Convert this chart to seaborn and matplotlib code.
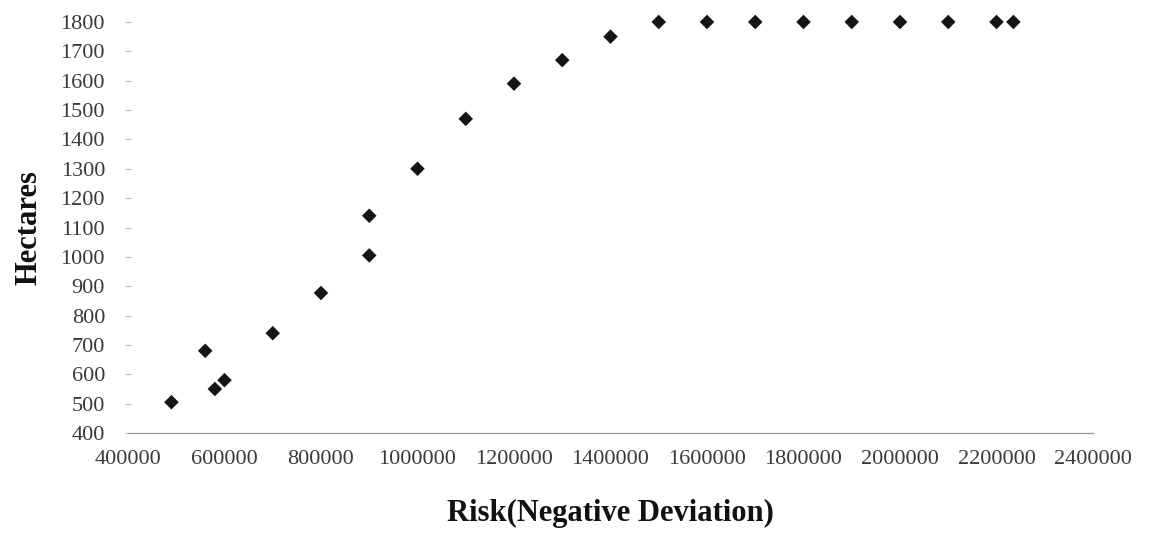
import matplotlib
matplotlib.use("Agg")
import matplotlib.pyplot as plt
import seaborn as sns
import pandas as pd

# Data
risk = [490000, 560000, 580000, 600000, 700000, 800000, 900000, 900000,
        1000000, 1100000, 1200000, 1300000, 1400000, 1500000, 1600000,
        1700000, 1800000, 1900000, 2000000, 2100000, 2200000, 2235000]
hectares = [505, 680, 550, 580, 740, 877, 1005, 1140,
            1300, 1470, 1590, 1670, 1750, 1800, 1800,
            1800, 1800, 1800, 1800, 1800, 1800, 1800]
x_ticks = [400000, 600000, 800000, 1000000, 1200000, 1400000, 1600000,
           1800000, 2000000, 2200000, 2400000]
y_ticks = [400, 500, 600, 700, 800, 900, 1000, 1100, 1200, 1300, 1400,
           1500, 1600, 1700, 1800]
x_title = "Risk(Negative Deviation)"
y_title = "Hectares"

sns.set_theme(style="white")
plt.rcParams['font.family'] = ['Liberation Serif', 'DejaVu Serif']

df = pd.DataFrame({"risk": risk, "hectares": hectares})

fig = plt.figure(figsize=(11.58, 5.4), dpi=100)
ax = fig.add_axes([128 / 1158, 0.1981, (1093 - 128) / 1158, 0.7612])

sns.scatterplot(data=df, x="risk", y="hectares", ax=ax, marker="D", s=55,
                color="#151515", edgecolor="none", clip_on=False, zorder=5)

ax.set_xlim(400000, 2400000)
ax.set_ylim(400, 1800)
ax.set_xticks(x_ticks)
ax.set_yticks(y_ticks)
ax.set_xticklabels([str(v) for v in x_ticks])
ax.set_yticklabels([str(v) for v in y_ticks])

for s in ["top", "right", "left"]:
    ax.spines[s].set_visible(False)
ax.spines["bottom"].set_color("#9a9a9a")
ax.spines["bottom"].set_linewidth(0.9)

ax.tick_params(axis="x", length=0, pad=12, labelsize=16, labelcolor="#3a3a3a")
ax.tick_params(axis="y", length=5, width=0.8, color="#bbbbbb", direction="inout",
               pad=14, labelsize=16, labelcolor="#3a3a3a", left=True)

ax.set_xlabel(x_title, fontsize=22, fontweight="bold", labelpad=22, color="#111111")
ax.set_ylabel(y_title, fontsize=22, fontweight="bold", labelpad=12, color="#111111")

fig.savefig("out.png", dpi=100, facecolor="white")
